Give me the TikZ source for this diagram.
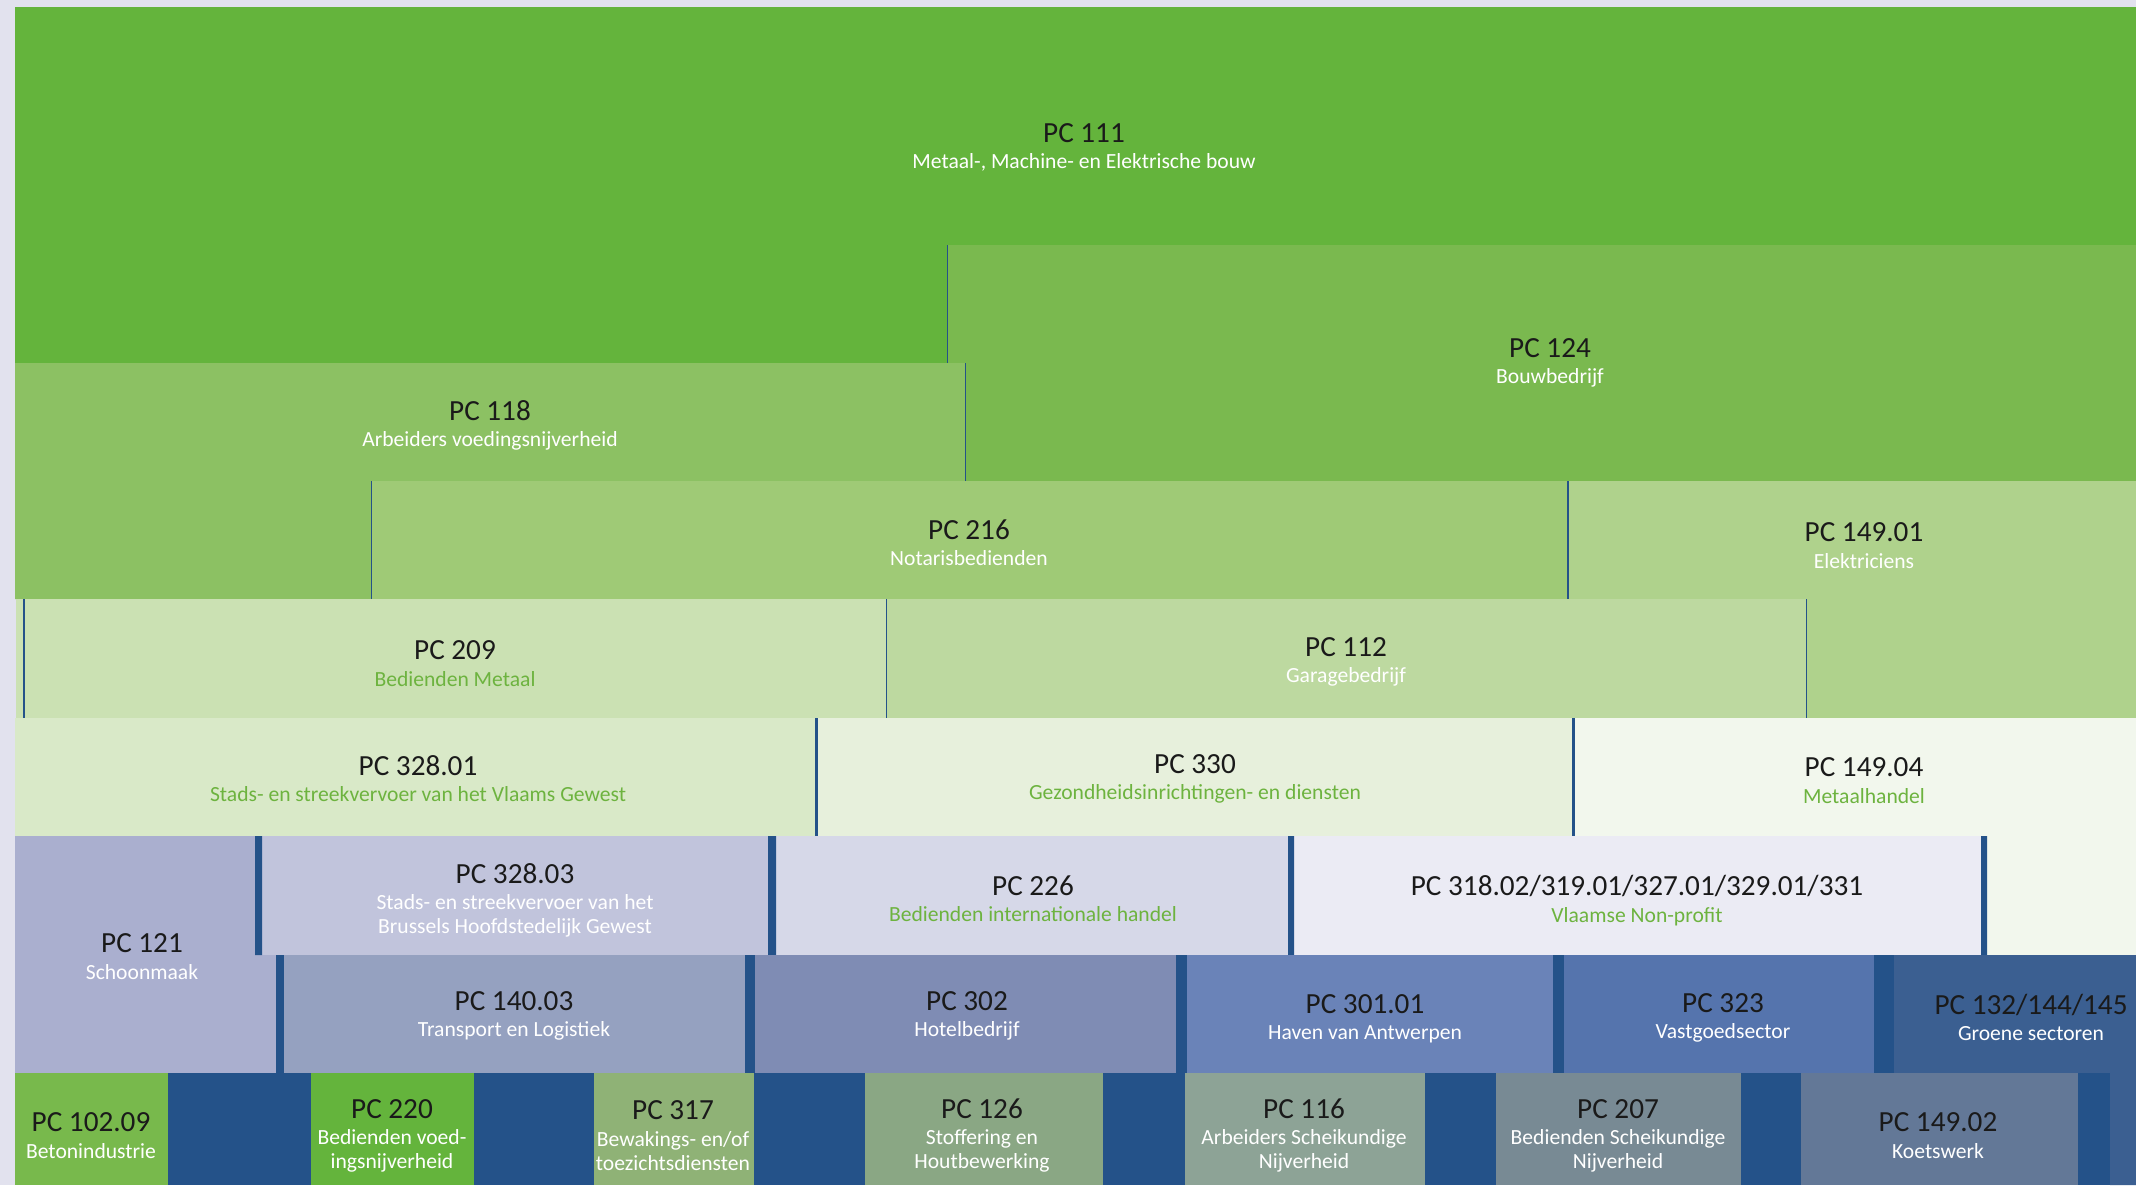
\documentclass[tikz,border=0pt]{standalone}
\usepackage{fontspec}
\setmainfont{Carlito}
\usepackage{tikz}

\definecolor{bgcol}{HTML}{E2E2EE}
\definecolor{barblue}{HTML}{245289}
\definecolor{titlecol}{HTML}{1A1A1A}
\definecolor{subgreen}{HTML}{6DB33F}
\definecolor{c111}{HTML}{64B43C}
\definecolor{c124}{HTML}{7AB94F}
\definecolor{c118}{HTML}{8CC163}
\definecolor{c216}{HTML}{9FCA76}
\definecolor{c14901}{HTML}{AFD28C}
\definecolor{c209}{HTML}{CBE1B3}
\definecolor{c112}{HTML}{BDD9A0}
\definecolor{c32801}{HTML}{D9E9C8}
\definecolor{c330}{HTML}{E7F0DC}
\definecolor{c14904}{HTML}{F2F7ED}
\definecolor{c121}{HTML}{AAAFCF}
\definecolor{c32803}{HTML}{C1C4DC}
\definecolor{c226}{HTML}{D6D8E8}
\definecolor{c318}{HTML}{EBEBF4}
\definecolor{c14003}{HTML}{95A1C0}
\definecolor{c302}{HTML}{7F8CB4}
\definecolor{c30101}{HTML}{6A83B8}
\definecolor{c323}{HTML}{5574AD}
\definecolor{c132}{HTML}{3B5F91}
\definecolor{c10209}{HTML}{78B94C}
\definecolor{c220}{HTML}{64B43C}
\definecolor{c317}{HTML}{8FB276}
\definecolor{c126}{HTML}{8AA784}
\definecolor{c116}{HTML}{8DA396}
\definecolor{c207}{HTML}{788A94}
\definecolor{c14902}{HTML}{637897}

% first line of every label
\newcommand{\pcnum}[1]{{\color{titlecol}\fontsize{14.6}{15}\selectfont #1}\\[1.2pt]}

\begin{document}
\begin{tikzpicture}[x=0.5pt, y=-0.5pt]
  \tikzset{BoxLabel/.style={align=center, inner sep=0pt, text=white, yshift=-0.8pt,
      font=\fontsize{10.8}{12}\selectfont}}
  \tikzset{GreenLabel/.style={BoxLabel, text=subgreen}}
  \tikzset{SepLine/.style={draw=barblue, line width=0.5pt}}

  \useasboundingbox (0,0) rectangle (2136,1185);
  \fill[bgcol] (0,0) rectangle (2136,1185);

  % green rows
  \fill[c111] (15,7) rectangle (2136,245) (15,245) rectangle (947,363);
  \fill[c124] (947,245) rectangle (2136,363) (965,363) rectangle (2136,481);
  \fill[c118] (15,363) rectangle (965,481) (15,481) rectangle (371,599);
  \fill[c216] (371,481) rectangle (1568,599);
  \fill[c14901] (1568,481) rectangle (2136,599) (1806,599) rectangle (2136,718);
  \fill[c209] (16,599) rectangle (886,718);
  \fill[c112] (886,599) rectangle (1806,718);
  \fill[c32801] (15,718) rectangle (816,836);
  \fill[c330] (816,718) rectangle (1573,836);
  \fill[c14904] (1573,718) rectangle (2136,836) (1987,836) rectangle (2136,955);

  \draw[SepLine] (947,245) -- (947,363);
  \draw[SepLine] (965,363) -- (965,481);
  \draw[SepLine] (371,481) -- (371,599);
  \draw[SepLine, line width=1pt] (1568,481) -- (1568,599);
  \draw[SepLine, line width=1pt] (24,599) -- (24,718);
  \draw[SepLine] (886,599) -- (886,718);
  \draw[SepLine] (1806,599) -- (1806,718);
  \draw[SepLine, line width=1.5pt] (816,718) -- (816,836);
  \draw[SepLine, line width=1.5pt] (1573,718) -- (1573,836);

  % blue rows
  \fill[c121] (15,836) rectangle (255,955) (15,955) rectangle (276,1073);
  \fill[c32803] (262,836) rectangle (768,955);
  \fill[c226] (776,836) rectangle (1288,955);
  \fill[c318] (1294,836) rectangle (1981,955);
  \fill[barblue] (255,836) rectangle (262,955) (768,836) rectangle (776,955)
    (1288,836) rectangle (1294,955) (1981,836) rectangle (1987,955);

  \fill[barblue] (276,955) rectangle (1894,1073);
  \fill[c14003] (284,955) rectangle (745,1073);
  \fill[c302] (755,955) rectangle (1176,1073);
  \fill[c30101] (1187,955) rectangle (1553,1073);
  \fill[c323] (1564,955) rectangle (1874,1073);
  \fill[c132] (1894,955) rectangle (2136,1073) (2110,1073) rectangle (2136,1185);

  \fill[barblue] (15,1073) rectangle (2110,1185);
  \fill[c10209] (15,1073) rectangle (168,1185);
  \fill[c220] (311,1073) rectangle (474,1185);
  \fill[c317] (594,1073) rectangle (754,1185);
  \fill[c126] (865,1073) rectangle (1103,1185);
  \fill[c116] (1185,1073) rectangle (1425,1185);
  \fill[c207] (1496,1073) rectangle (1741,1185);
  \fill[c14902] (1801,1073) rectangle (2078,1185);

  % labels
  \node[BoxLabel] (pc111) at (1084,146) {\pcnum{PC 111}Metaal-, Machine- en Elektrische bouw};
  \node[BoxLabel] (pc124) at (1550,361) {\pcnum{PC 124}Bouwbedrijf};
  \node[BoxLabel] (pc118) at (490,424) {\pcnum{PC 118}Arbeiders voedingsnijverheid};
  \node[BoxLabel] (pc216) at (969,541) {\pcnum{PC 216}Notarisbedienden};
  \node[BoxLabel] (pc14901) at (1864,544) {\pcnum{PC 149.01}Elektriciens};
  \node[GreenLabel] (pc209) at (455,662) {\pcnum{PC 209}Bedienden Metaal};
  \node[BoxLabel] (pc112) at (1346,660) {\pcnum{PC 112}Garagebedrijf};
  \node[GreenLabel] (pc32801) at (418,777) {\pcnum{PC 328.01}Stads- en streekvervoer van het Vlaams Gewest};
  \node[GreenLabel] (pc330) at (1195,777) {\pcnum{PC 330}Gezondheidsinrichtingen- en diensten};
  \node[GreenLabel] (pc14904) at (1864,779) {\pcnum{PC 149.04}Metaalhandel};
  \node[BoxLabel] (pc32803) at (515,899) {\pcnum{PC 328.03}Stads- en streekvervoer van het\\Brussels Hoofdstedelijk Gewest};
  \node[BoxLabel] (pc121) at (142,955) {\pcnum{PC 121}Schoonmaak};
  \node[GreenLabel] (pc226) at (1033,897) {\pcnum{PC 226}Bedienden internationale handel};
  \node[GreenLabel] (pc318) at (1637,899) {\pcnum{PC 318.02/319.01/327.01/329.01/331}Vlaamse Non-profit};
  \node[BoxLabel] (pc14003) at (514,1014) {\pcnum{PC 140.03}Transport en Logistiek};
  \node[BoxLabel] (pc302) at (967,1014) {\pcnum{PC 302}Hotelbedrijf};
  \node[BoxLabel] (pc30101) at (1365,1017) {\pcnum{PC 301.01}Haven van Antwerpen};
  \node[BoxLabel] (pc323) at (1723,1016) {\pcnum{PC 323}Vastgoedsector};
  \node[BoxLabel] (pc132) at (2031,1016) {\pcnum{PC 132/144/145}Groene sectoren};
  \node[BoxLabel] (pc10209) at (91,1134) {\pcnum{PC 102.09}Betonindustrie};
  \node[BoxLabel] (pc220) at (392,1134) {\pcnum{PC 220}Bedienden voed-\\ingsnijverheid};
  \node[BoxLabel] (pc317) at (673,1134) {\pcnum{PC 317}Bewakings- en/of\\toezichtsdiensten};
  \node[BoxLabel] (pc126) at (982,1134) {\pcnum{PC 126}Stoffering en\\Houtbewerking};
  \node[BoxLabel] (pc116) at (1304,1134) {\pcnum{PC 116}Arbeiders Scheikundige\\Nijverheid};
  \node[BoxLabel] (pc207) at (1618,1134) {\pcnum{PC 207}Bedienden Scheikundige\\Nijverheid};
  \node[BoxLabel] (pc14902) at (1938,1134) {\pcnum{PC 149.02}Koetswerk};
\end{tikzpicture}
\end{document}
